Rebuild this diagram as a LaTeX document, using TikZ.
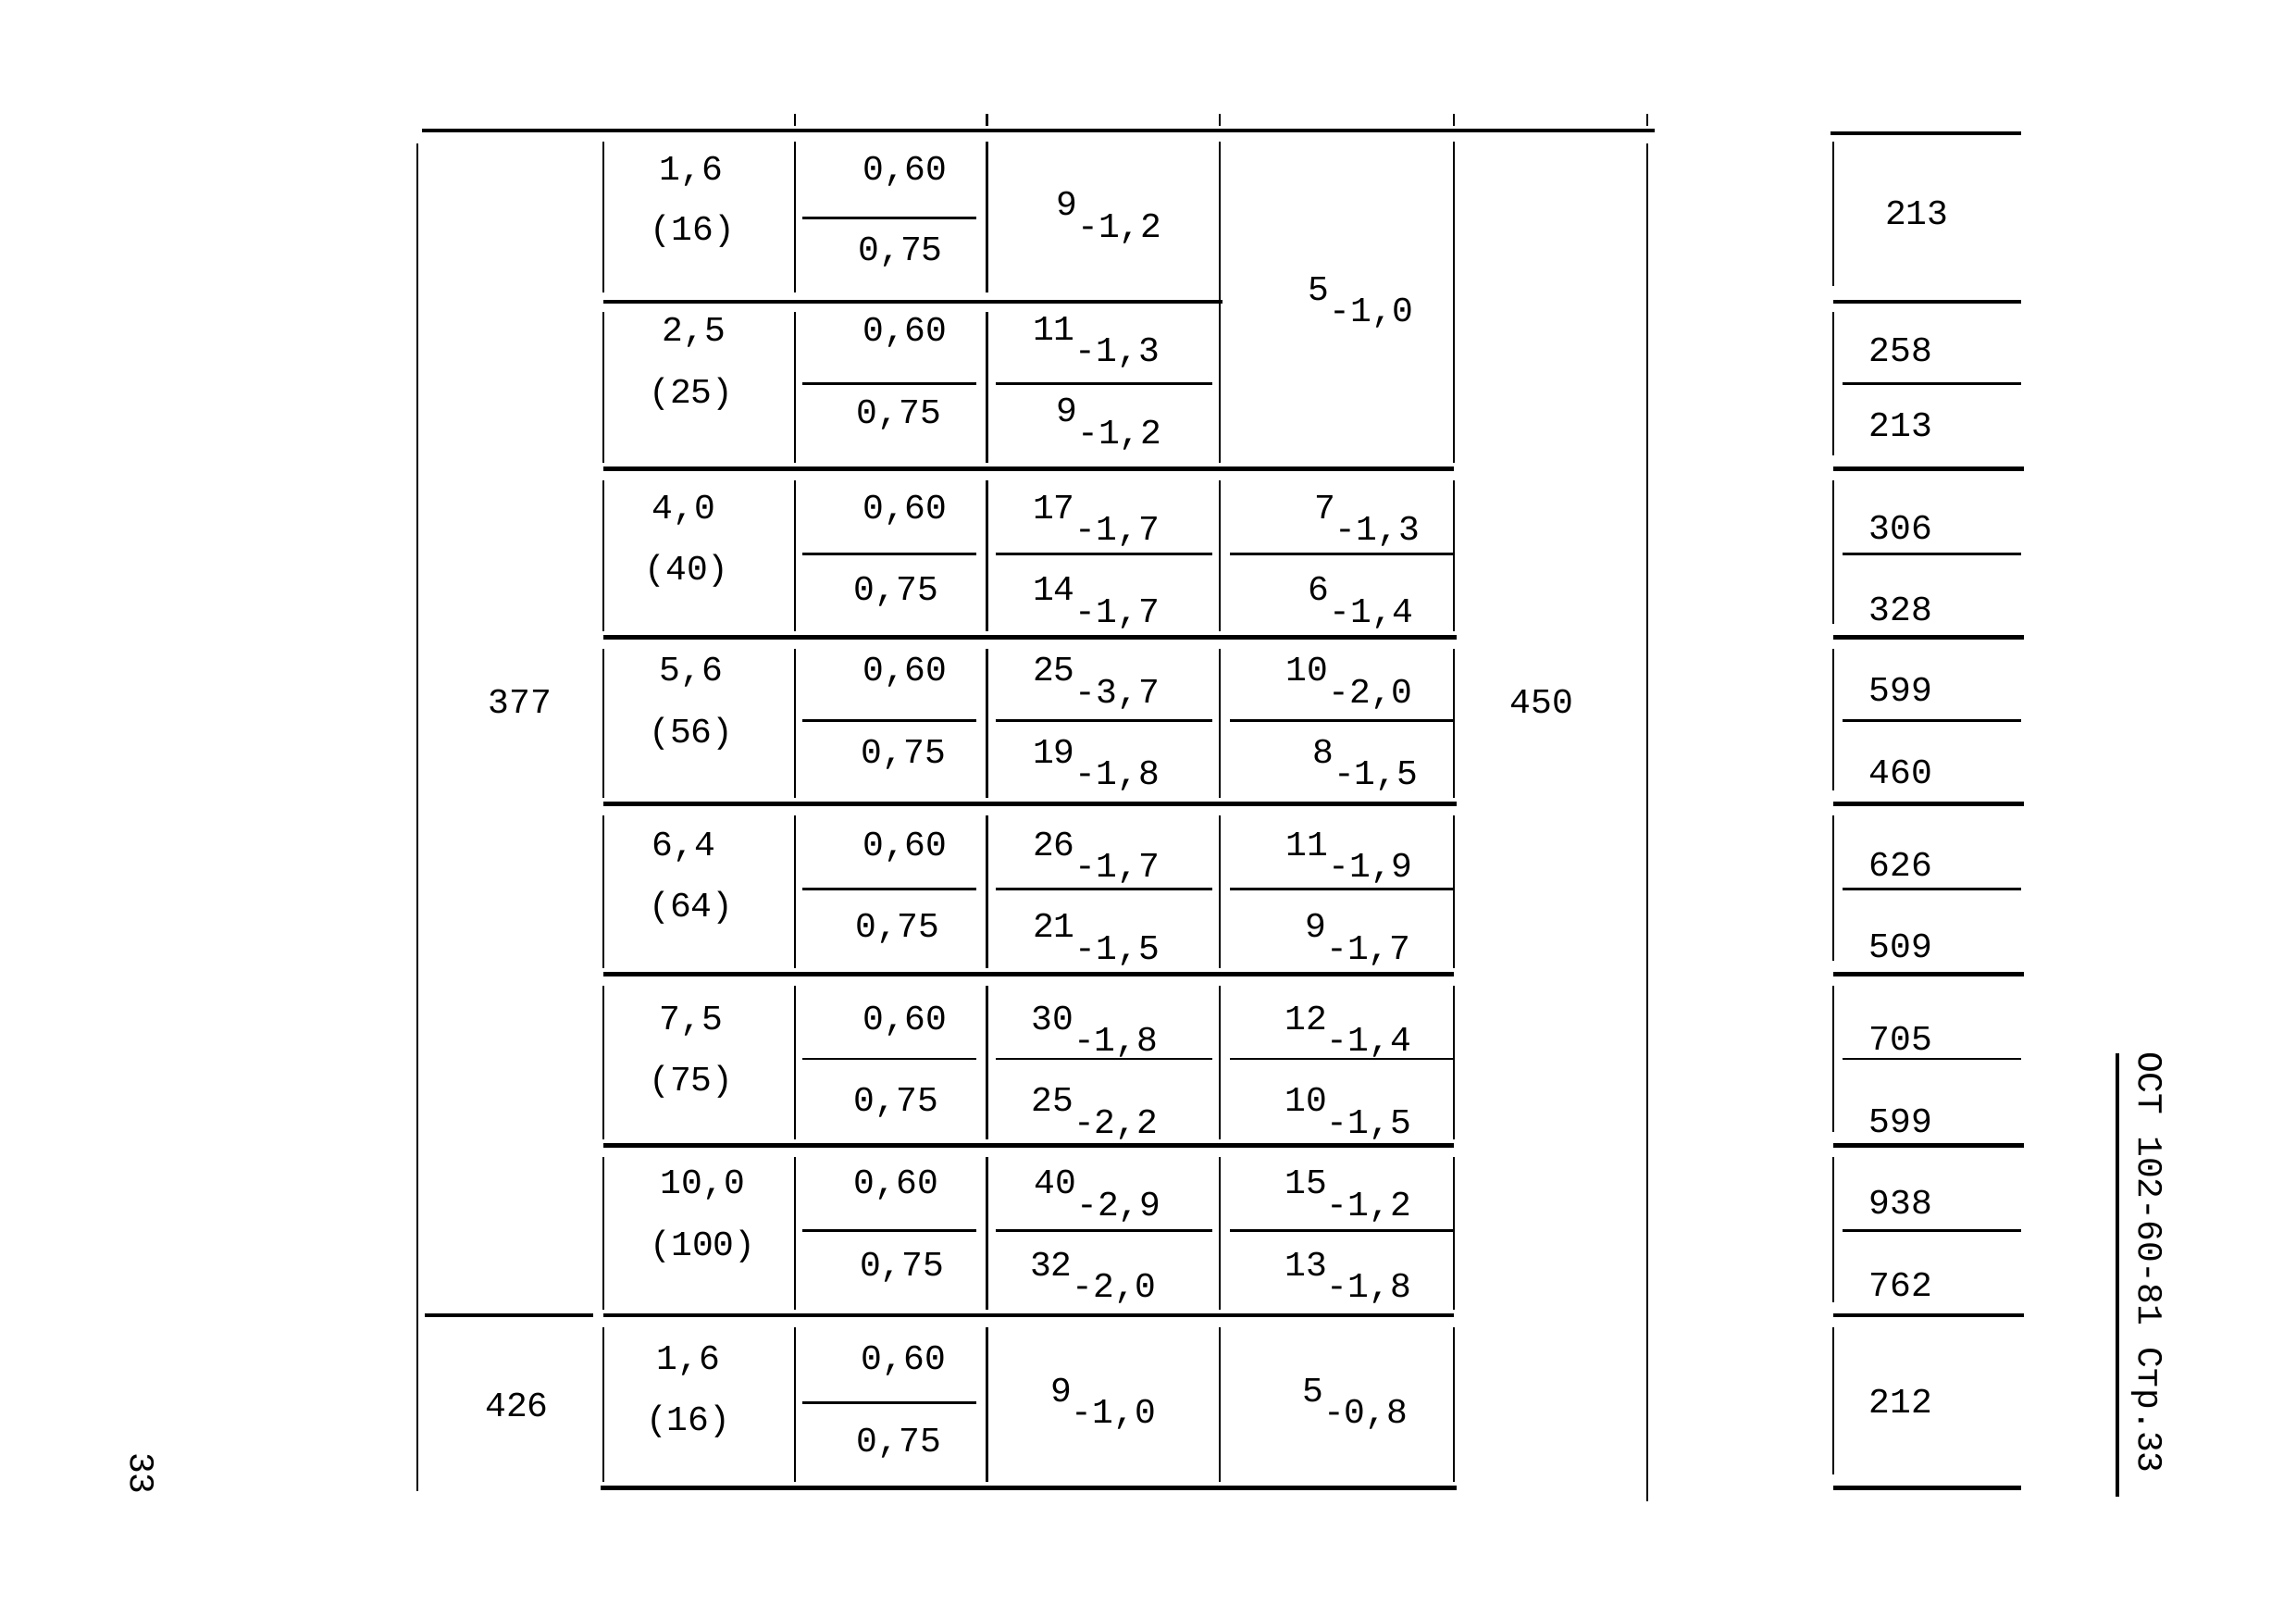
\documentclass[tikz,border=0pt]{standalone}
\usepackage{fontspec}
\setmainfont{Liberation Mono}
\newcommand\subnum[2]{#1\raisebox{-6.7pt}{#2}}
\begin{document}
\begin{tikzpicture}[x=0.015823cm,y=-0.015823cm,
  txt/.style={inner sep=0pt,font=\fontsize{10.8}{12}\selectfont},
  tc/.style={txt,anchor=base},
  tl/.style={txt,anchor=base west},
  sepline/.style={line width=1.3pt},
  vline/.style={line width=0.7pt},
  fracline/.style={line width=0.8pt}]
\useasboundingbox[fill=white] (0,0) rectangle (1568,1104);

% ---- horizontal separators
\draw[sepline] (288,89)--(1130,89);
\draw[sepline] (1250,91)--(1380,91);
\draw[sepline] (412,206)--(835,206);
\draw[sepline] (1252,206)--(1380,206);
\foreach \y/\e in {320/993,435/995,549/995,665/993,782/993,898/993}{
  \draw[sepline] (412,\y)--(\e,\y);
  \draw[sepline] (1252,\y)--(1382,\y);
}
\draw[sepline] (290,898)--(405,898);
\draw[sepline] (410,1016)--(995,1016);
\draw[sepline] (1252,1016)--(1380,1016);

% ---- vertical lines
\draw[vline] (285,98)--(285,1018);
\draw[vline] (1125,98)--(1125,1025);
\foreach \x in {543,674,833,993,1125}{\draw[vline] (\x,78)--(\x,86);}
\foreach \a/\b in {97/200,213/316,328/431,443/545,557/661,673/778,790/894,906/1012}{
  \draw[vline] (412,\a)--(412,\b);
  \draw[vline] (543,\a)--(543,\b);
  \draw[vline] (674,\a)--(674,\b);
  \draw[vline] (1252,\a)--(1252,\b-5);
}
\draw[vline] (833,97)--(833,316);
\draw[vline] (993,97)--(993,316);
\foreach \a/\b in {328/431,443/545,557/661,673/778,790/894,906/1012}{
  \draw[vline] (833,\a)--(833,\b);
  \draw[vline] (993,\a)--(993,\b);
}

% ---- fraction lines
\foreach \y in {149,262,378,492,607,723,840,958}{\draw[fracline] (548,\y)--(667,\y);}
\foreach \y in {262,378,492,607,723,840}{
  \draw[fracline] (680,\y)--(828,\y);
  \draw[fracline] (1258,\y)--(1380,\y);
}
\foreach \y in {378,492,607,723,840}{\draw[fracline] (840,\y)--(992,\y);}

% ---- column 1 and 6
\node[tc] (n377) at (355,487) {377};
\node[tc] (n426) at (353,967) {426};
\node[tc] (n450) at (1053,487) {450};

% ---- column 2
\node[tc] (c2r1a) at (472,123) {1,6};
\node[tc] (c2r1b) at (473,164) {(16)};
\node[tc] (c2r2a) at (474,233) {2,5};
\node[tc] (c2r2b) at (472,275) {(25)};
\node[tc] (c2r3a) at (467,354) {4,0};
\node[tc] (c2r3b) at (469,396) {(40)};
\node[tc] (c2r4a) at (472,465) {5,6};
\node[tc] (c2r4b) at (472,507) {(56)};
\node[tc] (c2r5a) at (467,584) {6,4};
\node[tc] (c2r5b) at (472,626) {(64)};
\node[tc] (c2r6a) at (472,703) {7,5};
\node[tc] (c2r6b) at (472,745) {(75)};
\node[tc] (c2r7a) at (480,815) {10,0};
\node[tc] (c2r7b) at (480,857) {(100)};
\node[tc] (c2r8a) at (470,935) {1,6};
\node[tc] (c2r8b) at (470,977) {(16)};

% ---- column 3
\foreach \n/\x/\y in {1/618/123,2/618/233,3/618/354,4/618/465,5/618/584,6/618/703,7/612/815,8/617/935}{
  \node[tc] (c3r\n a) at (\x,\y) {0,60};}
\foreach \n/\x/\y in {1/615/178,2/614/289,3/612/410,4/617/521,5/613/640,6/612/759,7/616/871,8/614/991}{
  \node[tc] (c3r\n b) at (\x,\y) {0,75};}

% ---- column 4
\node[tl] (c4r1) at (721,147) {\subnum{9}{-1,2}};
\node[tl] (c4r2a) at (705,232) {\subnum{11}{-1,3}};
\node[tl] (c4r2b) at (721,288) {\subnum{9}{-1,2}};
\node[tl] (c4r3a) at (705,354) {\subnum{17}{-1,7}};
\node[tl] (c4r3b) at (705,410) {\subnum{14}{-1,7}};
\node[tl] (c4r4a) at (705,465) {\subnum{25}{-3,7}};
\node[tl] (c4r4b) at (705,521) {\subnum{19}{-1,8}};
\node[tl] (c4r5a) at (705,584) {\subnum{26}{-1,7}};
\node[tl] (c4r5b) at (705,640) {\subnum{21}{-1,5}};
\node[tl] (c4r6a) at (704,703) {\subnum{30}{-1,8}};
\node[tl] (c4r6b) at (704,759) {\subnum{25}{-2,2}};
\node[tl] (c4r7a) at (706,815) {\subnum{40}{-2,9}};
\node[tl] (c4r7b) at (703,871) {\subnum{32}{-2,0}};
\node[tl] (c4r8) at (717,957) {\subnum{9}{-1,0}};

% ---- column 5
\node[tl] (c5r12) at (893,205) {\subnum{5}{-1,0}};
\node[tl] (c5r3a) at (897,354) {\subnum{7}{-1,3}};
\node[tl] (c5r3b) at (893,410) {\subnum{6}{-1,4}};
\node[tl] (c5r4a) at (878,465) {\subnum{10}{-2,0}};
\node[tl] (c5r4b) at (896,521) {\subnum{8}{-1,5}};
\node[tl] (c5r5a) at (878,584) {\subnum{11}{-1,9}};
\node[tl] (c5r5b) at (891,640) {\subnum{9}{-1,7}};
\node[tl] (c5r6a) at (877,703) {\subnum{12}{-1,4}};
\node[tl] (c5r6b) at (877,759) {\subnum{10}{-1,5}};
\node[tl] (c5r7a) at (877,815) {\subnum{15}{-1,2}};
\node[tl] (c5r7b) at (877,871) {\subnum{13}{-1,8}};
\node[tl] (c5r8) at (889,957) {\subnum{5}{-0,8}};

% ---- right block
\node[tc] (r1) at (1309,153) {213};
\node[tc] (r2a) at (1298,247) {258};
\node[tc] (r2b) at (1298,298) {213};
\node[tc] (r3a) at (1298,368) {306};
\node[tc] (r3b) at (1298,424) {328};
\node[tc] (r4a) at (1298,479) {599};
\node[tc] (r4b) at (1298,535) {460};
\node[tc] (r5a) at (1298,598) {626};
\node[tc] (r5b) at (1298,654) {509};
\node[tc] (r6a) at (1298,717) {705};
\node[tc] (r6b) at (1298,773) {599};
\node[tc] (r7a) at (1298,829) {938};
\node[tc] (r7b) at (1298,885) {762};
\node[tc] (r8) at (1298,965) {212};

% ---- margin texts
\node[txt,rotate=-90] (pagenum) at (97,1006) {33};
\node[txt,rotate=-90] (docref) at (1466,862) {ОСТ 102-60-81 Стр.33};
\draw[line width=1pt] (1446,719)--(1446,1022);
\end{tikzpicture}
\end{document}
